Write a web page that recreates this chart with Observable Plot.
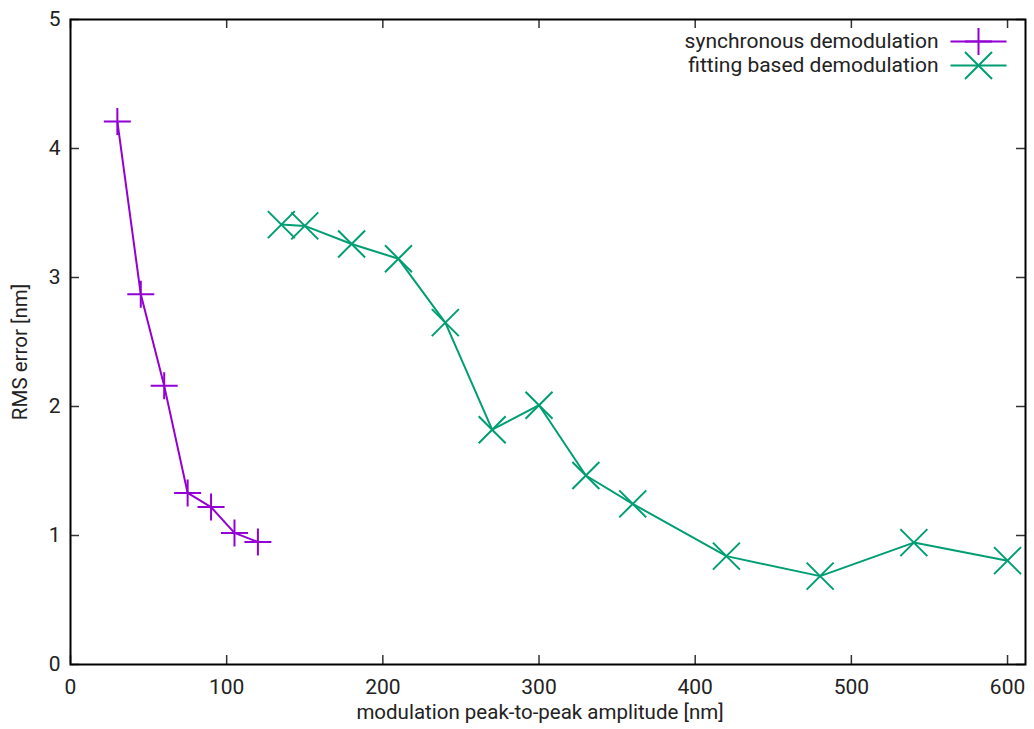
<!DOCTYPE html>
<html><head><meta charset="utf-8">
<script src="https://cdn.jsdelivr.net/npm/d3@7"></script>
<script src="https://cdn.jsdelivr.net/npm/@observablehq/plot@0.6"></script>
<style>body{margin:0;background:#fff}</style>
</head><body><div id="chart"></div>
<script>
const syncX = [30, 45, 60, 75, 90, 105, 120];
const syncY = [4.21, 2.87, 2.16, 1.33, 1.22, 1.02, 0.95];
const fitX = [135, 150, 180, 210, 240, 270, 300, 330, 360, 420, 480, 540, 600];
const fitY = [3.41, 3.40, 3.26, 3.145, 2.65, 1.82, 2.01, 1.465, 1.245, 0.84, 0.685, 0.945, 0.805];
const xTicks = [0, 100, 200, 300, 400, 500, 600];
const yTicks = [0, 1, 2, 3, 4, 5];
const seriesNames = ["synchronous demodulation", "fitting based demodulation"];
const seriesColors = ["#9400d3", "#009e73"];
const xLabel = "modulation peak-to-peak amplitude [nm]";
const yLabel = "RMS error [nm]";

const syncData = syncX.map((x, i) => ({x, y: syncY[i]}));
const fitData = fitX.map((x, i) => ({x, y: fitY[i]}));

const W = 1034, H = 729, mL = 70, mR = 9, mT = 19, mB = 65;
const pw = W - mL - mR, ph = H - mT - mB, tk = 9;

const plusSym = {draw(ctx) { const r = 13.5; ctx.moveTo(-r, 0); ctx.lineTo(r, 0); ctx.moveTo(0, -r); ctx.lineTo(0, r); }};
const timesSym = {draw(ctx) { const r = 13.5; ctx.moveTo(-r, -r); ctx.lineTo(r, r); ctx.moveTo(-r, r); ctx.lineTo(r, -r); }};
const lineSym = {draw(ctx) { ctx.moveTo(-28, 0); ctx.lineTo(28, 0); }};
const syms = [plusSym, timesSym];

const legendMarks = seriesNames.flatMap((name, i) => {
  const dy = 22 + i * 24;
  return [
    Plot.text([name], {frameAnchor: "top-right", textAnchor: "end", lineAnchor: "middle", dx: -87, dy, fontSize: 21, fill: "#222"}),
    Plot.dot([name], {frameAnchor: "top-right", dx: -47, dy, symbol: lineSym, stroke: seriesColors[i], strokeWidth: 2, fill: "none"}),
    Plot.dot([name], {frameAnchor: "top-right", dx: -47, dy, symbol: syms[i], stroke: seriesColors[i], strokeWidth: 2, fill: "none"})
  ];
});

const chart = Plot.plot({
  width: W, height: H,
  marginLeft: mL, marginRight: mR, marginTop: mT, marginBottom: mB,
  x: {domain: [0, 611.5]},
  y: {domain: [0, 5]},
  style: {fontFamily: "Roboto", fontSize: "21px", color: "#222", background: "white", overflow: "visible"},
  marks: [
    Plot.tickX(xTicks, {x: d => d, insetTop: ph - tk, stroke: "#333", strokeWidth: 1.5}),
    Plot.tickX(xTicks, {x: d => d, insetBottom: ph - tk, stroke: "#333", strokeWidth: 1.5}),
    Plot.tickY(yTicks, {y: d => d, insetRight: pw - tk, stroke: "#333", strokeWidth: 1.5}),
    Plot.tickY(yTicks, {y: d => d, insetLeft: pw - tk, stroke: "#333", strokeWidth: 1.5}),
    Plot.axisX(xTicks, {tickSize: 0, tickPadding: 15, label: null, fontSize: 21, tickFormat: d3.format("d")}),
    Plot.axisY(yTicks, {tickSize: 0, tickPadding: 10, label: null, fontSize: 21, tickFormat: d3.format("d")}),
    Plot.frame({stroke: "#000", strokeWidth: 2}),
    Plot.text([xLabel], {frameAnchor: "bottom", textAnchor: "middle", lineAnchor: "middle", dx: -8, dy: 48, fontSize: 20.5, fill: "#222"}),
    Plot.text([yLabel], {frameAnchor: "left", textAnchor: "middle", lineAnchor: "middle", rotate: -90, dx: -50, dy: 10, fontSize: 20.5, fill: "#222"}),
    Plot.line(syncData, {x: "x", y: "y", stroke: seriesColors[0], strokeWidth: 2}),
    Plot.dot(syncData, {x: "x", y: "y", symbol: plusSym, stroke: seriesColors[0], strokeWidth: 2, fill: "none"}),
    Plot.line(fitData, {x: "x", y: "y", stroke: seriesColors[1], strokeWidth: 2}),
    Plot.dot(fitData, {x: "x", y: "y", symbol: timesSym, stroke: seriesColors[1], strokeWidth: 2, fill: "none"}),
    ...legendMarks
  ]
});
document.getElementById("chart").appendChild(chart);
</script>
</body></html>
